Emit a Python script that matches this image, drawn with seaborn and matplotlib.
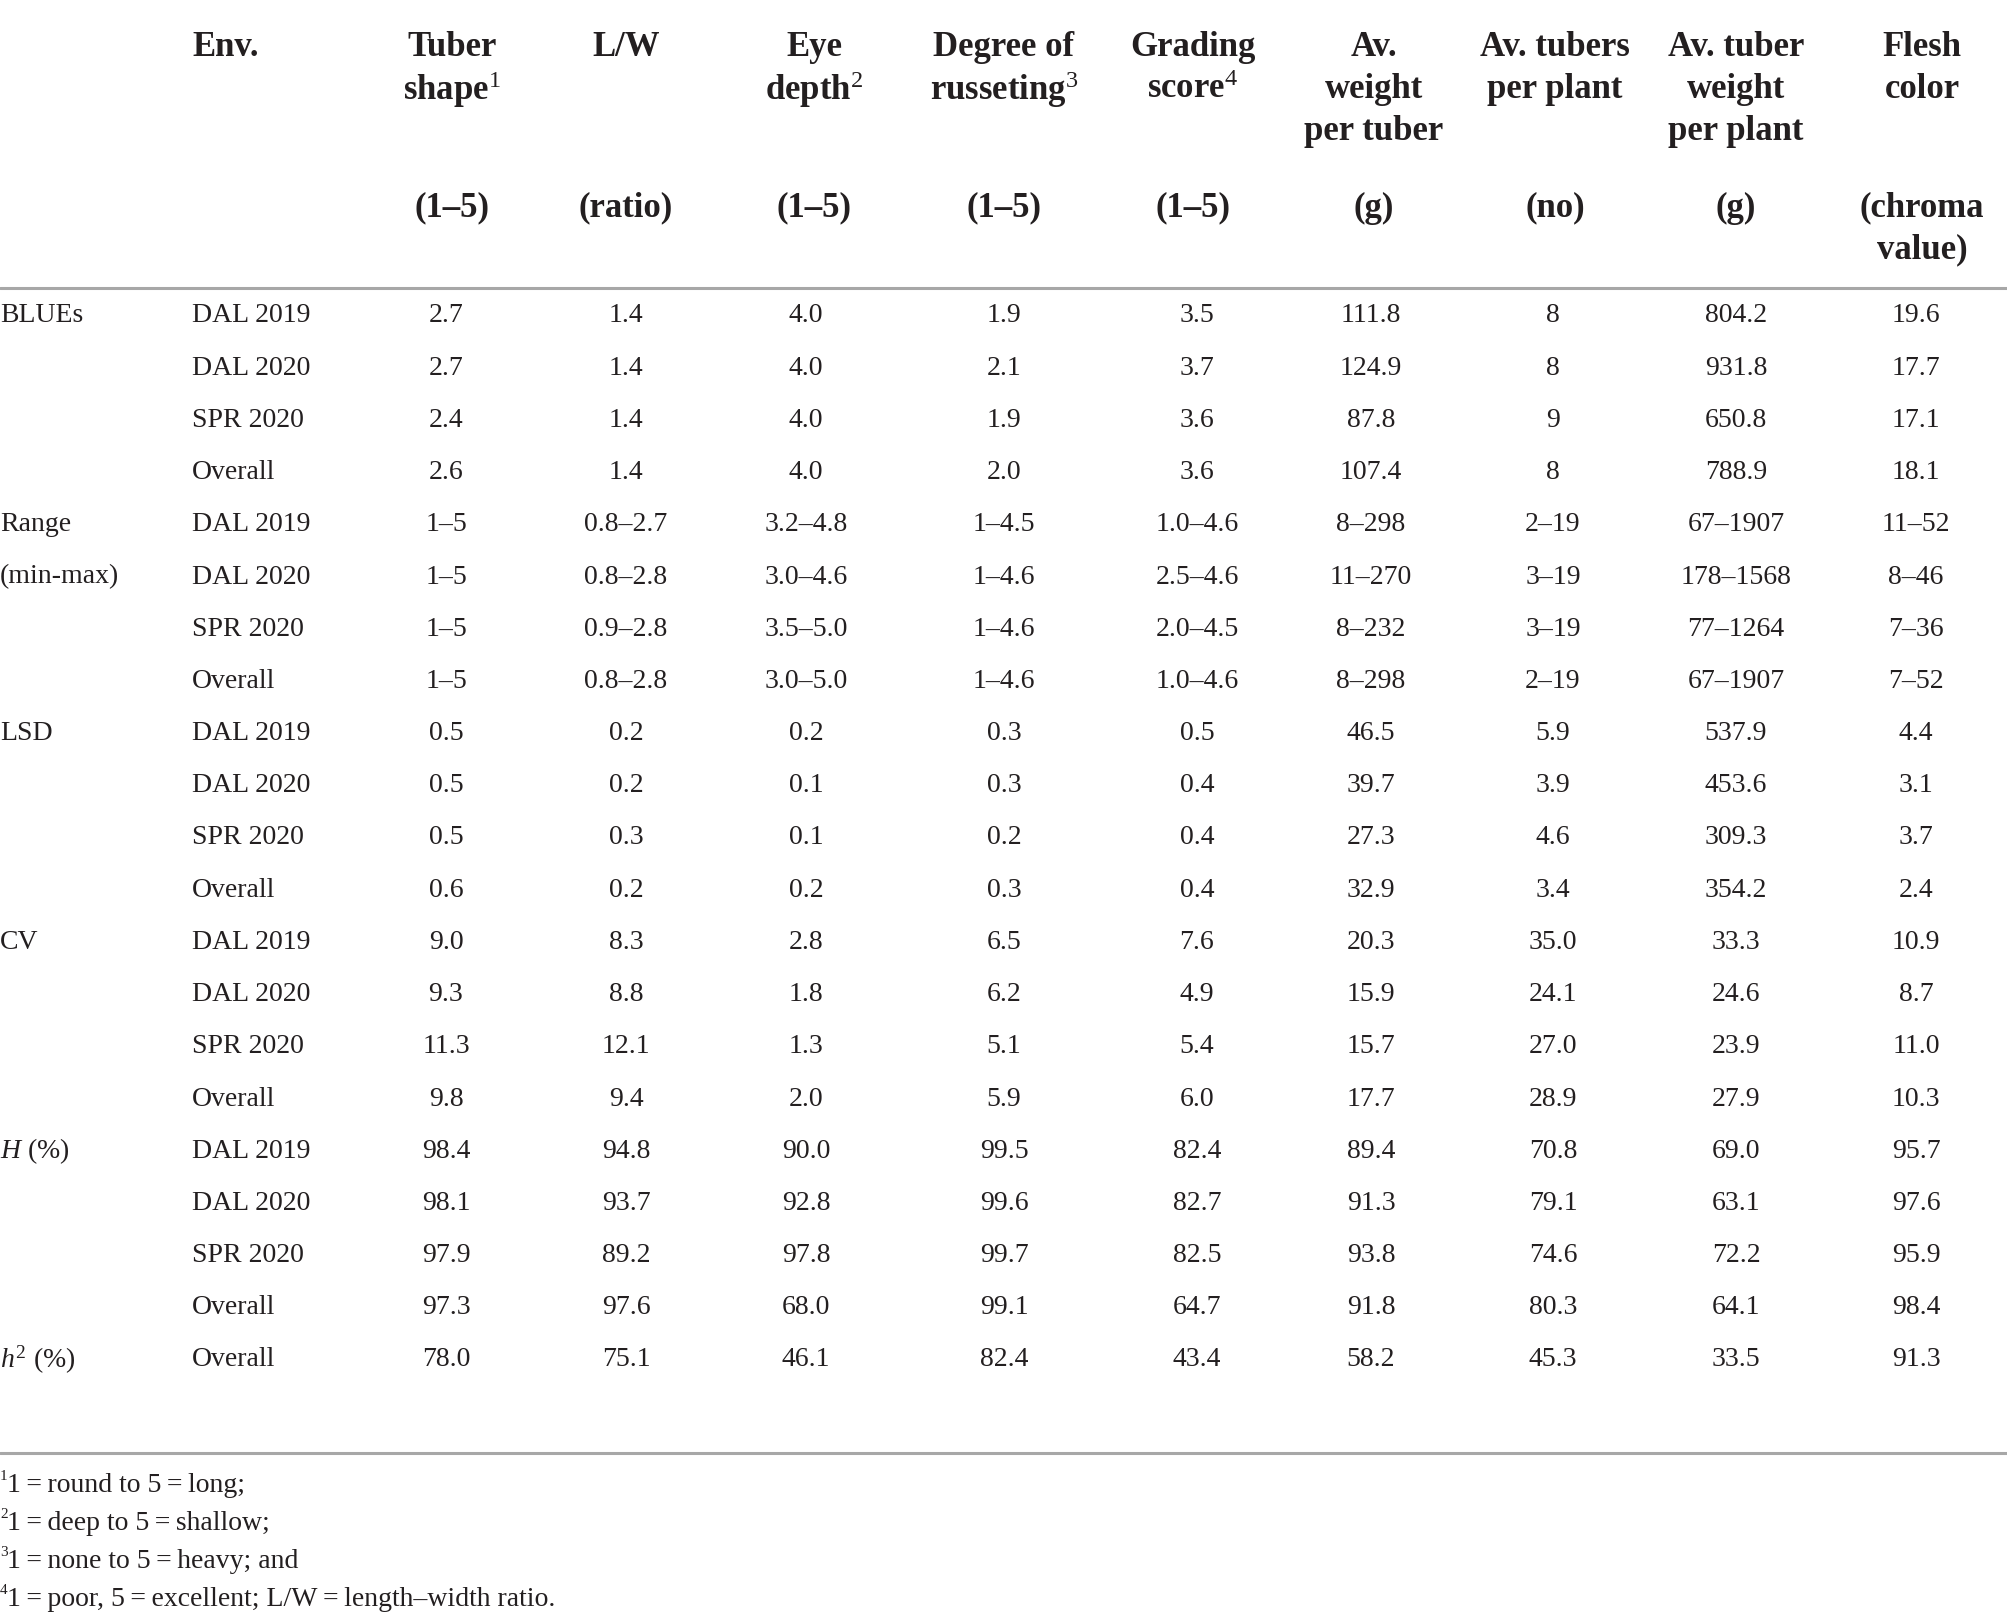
import numpy as np
import pandas as pd
import seaborn as sns
import matplotlib.pyplot as plt

# ---- table content ----
stat_labels = ["BLUEs", "", "", "", "Range", "(min-max)", "", "", "LSD", "", "", "",
               "CV", "", "", "", "$\\mathit{H}$ (%)", "", "", "", "$\\mathit{h}^2$ (%)"]
env_labels = ["DAL 2019", "DAL 2020", "SPR 2020", "Overall"] * 5 + ["Overall"]

header_lines = [
    ["Tuber", "shape$^1$"],
    ["L/W"],
    ["Eye", "depth$^2$"],
    ["Degree of", "russeting$^3$"],
    ["Grading", "score$^4$"],
    ["Av.", "weight", "per tuber"],
    ["Av. tubers", "per plant"],
    ["Av. tuber", "weight", "per plant"],
    ["Flesh", "color"],
]
unit_lines = [["(1–5)"], ["(ratio)"], ["(1–5)"], ["(1–5)"], ["(1–5)"], ["(g)"], ["(no)"],
              ["(g)"], ["(chroma", "value)"]]

tuber_shape = ["2.7", "2.7", "2.4", "2.6", "1–5", "1–5", "1–5", "1–5",
               "0.5", "0.5", "0.5", "0.6", "9.0", "9.3", "11.3", "9.8",
               "98.4", "98.1", "97.9", "97.3", "78.0"]
lw_ratio = ["1.4", "1.4", "1.4", "1.4", "0.8–2.7", "0.8–2.8", "0.9–2.8", "0.8–2.8",
            "0.2", "0.2", "0.3", "0.2", "8.3", "8.8", "12.1", "9.4",
            "94.8", "93.7", "89.2", "97.6", "75.1"]
eye_depth = ["4.0", "4.0", "4.0", "4.0", "3.2–4.8", "3.0–4.6", "3.5–5.0", "3.0–5.0",
             "0.2", "0.1", "0.1", "0.2", "2.8", "1.8", "1.3", "2.0",
             "90.0", "92.8", "97.8", "68.0", "46.1"]
russeting = ["1.9", "2.1", "1.9", "2.0", "1–4.5", "1–4.6", "1–4.6", "1–4.6",
             "0.3", "0.3", "0.2", "0.3", "6.5", "6.2", "5.1", "5.9",
             "99.5", "99.6", "99.7", "99.1", "82.4"]
grading = ["3.5", "3.7", "3.6", "3.6", "1.0–4.6", "2.5–4.6", "2.0–4.5", "1.0–4.6",
           "0.5", "0.4", "0.4", "0.4", "7.6", "4.9", "5.4", "6.0",
           "82.4", "82.7", "82.5", "64.7", "43.4"]
weight_per_tuber = ["111.8", "124.9", "87.8", "107.4", "8–298", "11–270", "8–232", "8–298",
                    "46.5", "39.7", "27.3", "32.9", "20.3", "15.9", "15.7", "17.7",
                    "89.4", "91.3", "93.8", "91.8", "58.2"]
tubers_per_plant = ["8", "8", "9", "8", "2–19", "3–19", "3–19", "2–19",
                    "5.9", "3.9", "4.6", "3.4", "35.0", "24.1", "27.0", "28.9",
                    "70.8", "79.1", "74.6", "80.3", "45.3"]
weight_per_plant = ["804.2", "931.8", "650.8", "788.9", "67–1907", "178–1568", "77–1264", "67–1907",
                    "537.9", "453.6", "309.3", "354.2", "33.3", "24.6", "23.9", "27.9",
                    "69.0", "63.1", "72.2", "64.1", "33.5"]
flesh_color = ["19.6", "17.7", "17.1", "18.1", "11–52", "8–46", "7–36", "7–52",
               "4.4", "3.1", "3.7", "2.4", "10.9", "8.7", "11.0", "10.3",
               "95.7", "97.6", "95.9", "98.4", "91.3"]

footnote_marks = ["1", "2", "3", "4"]
footnotes = ["1\u2009=\u2009round to 5\u2009=\u2009long;",
             "1\u2009=\u2009deep to 5\u2009=\u2009shallow;",
             "1\u2009=\u2009none to 5\u2009=\u2009heavy; and",
             "1\u2009=\u2009poor, 5\u2009=\u2009excellent; L/W\u2009=\u2009length–width ratio."]

table = pd.DataFrame({
    "shape": tuber_shape, "lw": lw_ratio, "eye": eye_depth, "russet": russeting,
    "grading": grading, "wt_tuber": weight_per_tuber, "n_tubers": tubers_per_plant,
    "wt_plant": weight_per_plant, "flesh": flesh_color,
})

# ---- layout (pixel units) ----
header_x = [452, 626, 814, 1004, 1193, 1374, 1555, 1736, 1922]
value_x = [446, 626, 806, 1004, 1197, 1371, 1553, 1736, 1916]
stat_x, env_x = 0, 192
header_y0, header_dy = 48, 42
unit_y0 = 208
row_y0, row_dy = 316, 52.2
rule_y = [288, 1453]
foot_y0, foot_dy = 1485, 38

sns.set_theme(style="white")
plt.rcParams["font.family"] = ["Liberation Serif", "DejaVu Serif"]
plt.rcParams["mathtext.fontset"] = "custom"
plt.rcParams["mathtext.rm"] = "Liberation Serif"
plt.rcParams["mathtext.it"] = "Liberation Serif:italic"
plt.rcParams["mathtext.bf"] = "Liberation Serif:bold"

ink = "#231f20"
body_fs = 20
head_fs = 25

fig = plt.figure(figsize=(20.08, 16.22), dpi=100)
ax = fig.add_axes([0, 0, 1, 1])
ax.set_xlim(0, 2008)
ax.set_ylim(1622, 0)
ax.axis("off")

# header
ax.text(env_x, header_y0, "Env.", fontsize=head_fs, fontweight="bold", color=ink,
        ha="left", va="center")
for cx, lines, units in zip(header_x, header_lines, unit_lines):
    for k, s in enumerate(lines):
        ax.text(cx, header_y0 + k * header_dy, s, fontsize=head_fs, fontweight="bold",
                color=ink, ha="center", va="center")
    for k, s in enumerate(units):
        ax.text(cx, unit_y0 + k * header_dy, s, fontsize=head_fs, fontweight="bold",
                color=ink, ha="center", va="center")

# rules
for y in rule_y:
    ax.axhline(y, color="#a7a7a7", lw=2.2)

# body
for i in range(len(env_labels)):
    y = row_y0 + i * row_dy
    if stat_labels[i]:
        ax.text(stat_x, y, stat_labels[i], fontsize=body_fs, color=ink, ha="left", va="center")
    ax.text(env_x, y, env_labels[i], fontsize=body_fs, color=ink, ha="left", va="center")
    for cx, col in zip(value_x, table.columns):
        ax.text(cx, y, table[col].iloc[i], fontsize=body_fs, color=ink,
                ha="center", va="center")

# footnotes
for k, (m, s) in enumerate(zip(footnote_marks, footnotes)):
    y = foot_y0 + k * foot_dy
    ax.text(0, y - 8, m, fontsize=11, color=ink, ha="left", va="center")
    ax.text(7, y, s, fontsize=body_fs, color=ink, ha="left", va="center")

fig.savefig("out.png", dpi=100, facecolor="white")
